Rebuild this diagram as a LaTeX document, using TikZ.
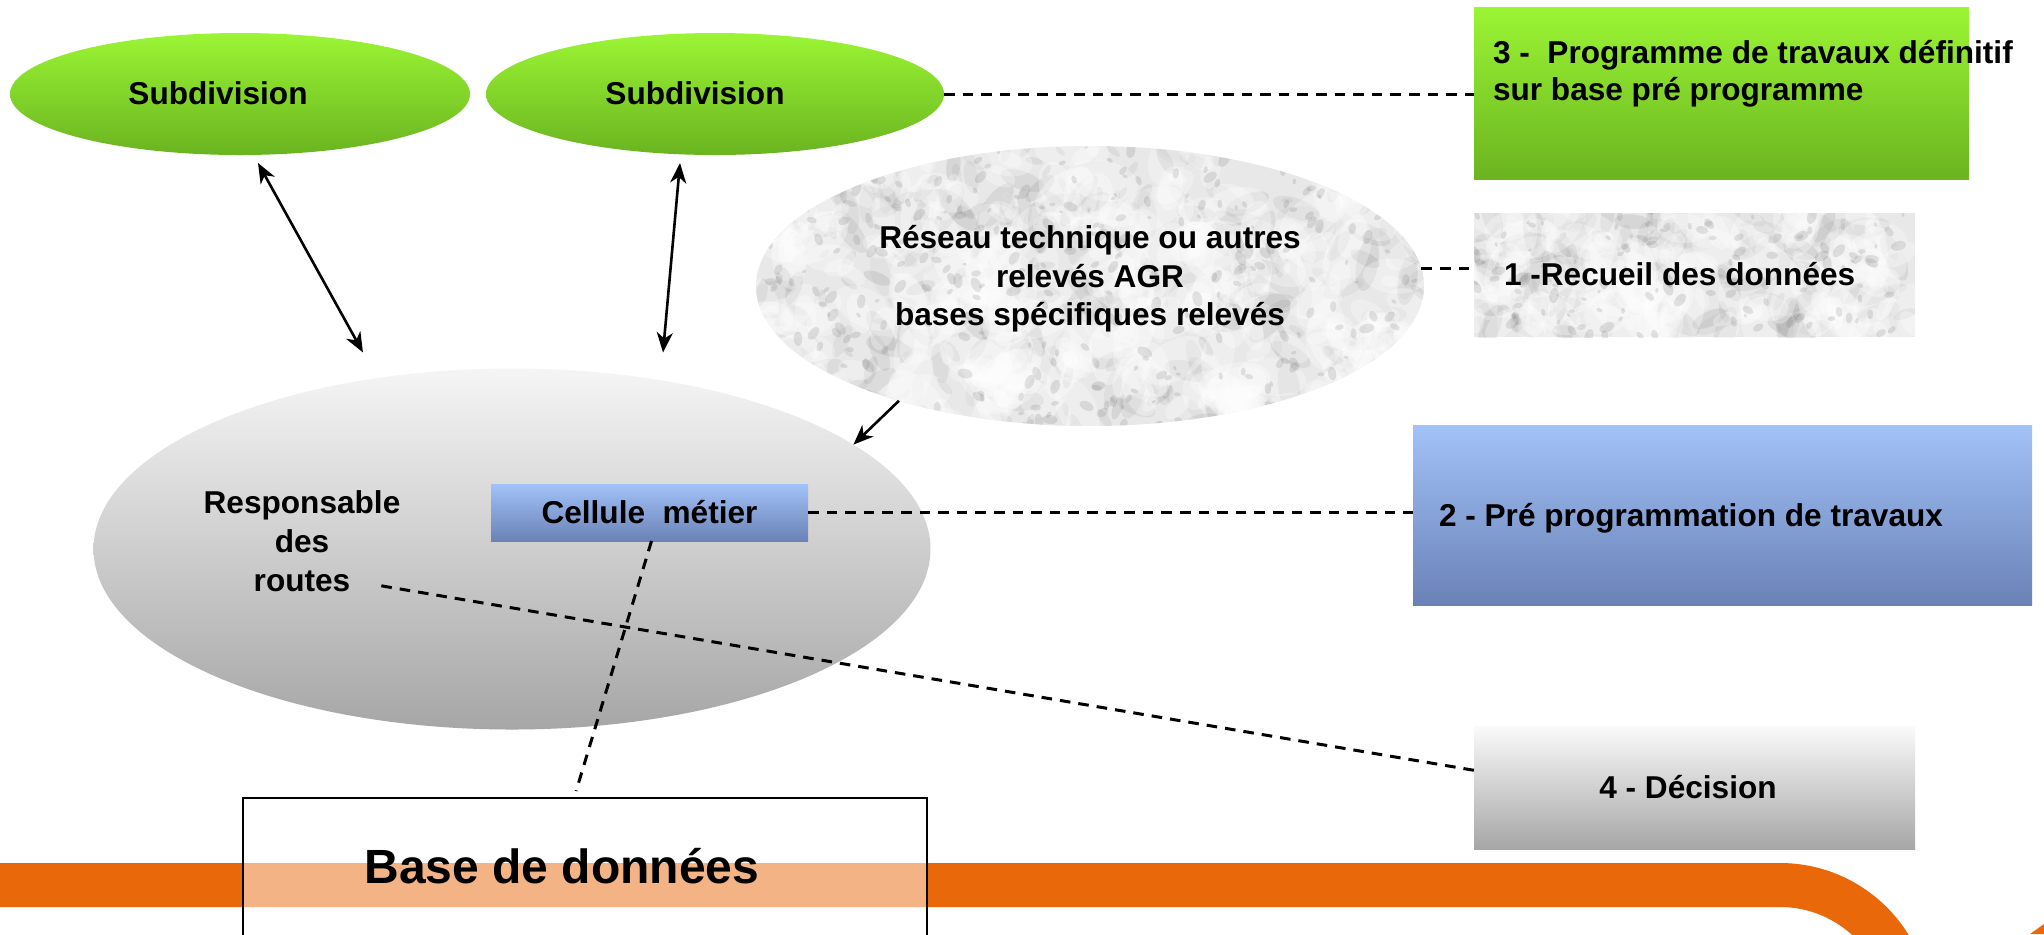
\documentclass[tikz,border=0pt]{standalone}
\usepackage{fontspec}
\setmainfont{Liberation Sans}
\usetikzlibrary{shapes.geometric,arrows.meta,calc}
\definecolor{grT}{RGB}{155,245,52}
\definecolor{grB}{RGB}{106,180,32}
\definecolor{blT}{RGB}{162,194,248}
\definecolor{blB}{RGB}{106,130,182}
\definecolor{gyT}{RGB}{250,250,250}
\definecolor{gyB}{RGB}{166,166,166}
\definecolor{orng}{RGB}{232,104,10}
\definecolor{marbleA}{RGB}{232,232,232}
\newcommand{\marbletex}[5]{%
  \fill[marbleA] (#1,#2) rectangle ++(#3,#4);
  \foreach \k in {1,...,#5}{%
    \pgfmathsetmacro{\mx}{#1+rnd*#3}%
    \pgfmathsetmacro{\my}{#2+rnd*#4}%
    \pgfmathsetmacro{\mr}{6+rnd*22}%
    \pgfmathsetmacro{\ma}{rnd*180}%
    \pgfmathsetmacro{\mo}{0.05+0.10*rnd}%
    \fill[gray!80!black, opacity=\mo, rotate around={\ma:(\mx,\my)}] (\mx,\my) ellipse [x radius=\mr, y radius=0.4*\mr];
  }%
  \foreach \k in {1,...,#5}{%
    \pgfmathsetmacro{\mx}{#1+rnd*#3}%
    \pgfmathsetmacro{\my}{#2+rnd*#4}%
    \pgfmathsetmacro{\mr}{10+rnd*28}%
    \pgfmathsetmacro{\ma}{rnd*180}%
    \fill[white, opacity=0.3, rotate around={\ma:(\mx,\my)}] (\mx,\my) ellipse [x radius=\mr, y radius=0.55*\mr];
  }%
  \foreach \k in {1,...,#5}{%
    \pgfmathsetmacro{\mx}{#1+rnd*#3}%
    \pgfmathsetmacro{\my}{#2+rnd*#4}%
    \pgfmathsetmacro{\mr}{2+rnd*6}%
    \pgfmathsetmacro{\ma}{rnd*180}%
    \fill[gray!90!black, opacity=0.18, rotate around={\ma:(\mx,\my)}] (\mx,\my) ellipse [x radius=\mr, y radius=0.6*\mr];
  }%
}
\begin{document}
\begin{tikzpicture}[x=0.5pt,y=-0.5pt,
  shp/.style={inner sep=0pt, outer sep=0pt},
  txt/.style={font=\fontsize{15.8}{19.2}\selectfont\bfseries, inner sep=0pt, outer sep=0pt},
  greenell/.style={shp, ellipse, top color=grT, bottom color=grB},
  dsh/.style={line width=1.5pt, dash pattern=on 5.3pt off 4pt},
  arr/.style={line width=1.3pt},
  >={Stealth[length=10pt,width=8pt,inset=3pt]}]
\clip (0,0) rectangle (2044,934);
\fill[white] (0,0) rectangle (2044,934);

% orange band
\fill[orng] (0,863) -- (1780,863) arc[start angle=-90, end angle=0, radius=151]
  -- (1887,1014) arc[start angle=0, end angle=-90, radius=107] -- (0,907) -- cycle;
\fill[orng] (2030,934) -- (2044,924) -- (2044,934) -- cycle;

% green ellipses
\node[greenell, minimum width=230pt, minimum height=61pt] (sub1) at (240,94) {};
\node[greenell, minimum width=229pt, minimum height=61pt] (sub2) at (715,94) {};
\node[txt, anchor=base] (sub1t) at (218,104) {Subdivision};
\node[txt, anchor=base] (sub2t) at (695,104) {Subdivision};

% box 3
\node[shp, rectangle, minimum width=247.5pt, minimum height=86pt, top color=grT, bottom color=grB] (box3) at (1721.5,93) {};
\node[txt, anchor=west, align=left, font=\fontsize{15.8}{18.3}\selectfont\bfseries] (box3t) at (1493,74)
  {3 -\ \ Programme de travaux définitif\\sur base pré programme};

% marble ellipse
\pgfmathsetseed{11}
\begin{scope}
  \clip (1090,286) ellipse [x radius=334, y radius=140];
  \marbletex{756}{146}{668}{280}{320}
\end{scope}
\node[shp, ellipse, minimum width=334pt, minimum height=140pt] (marble) at (1090,286) {};
\node[txt, align=center, font=\fontsize{15.8}{19.25}\selectfont\bfseries] (marblet) at (1090,279)
  {Réseau technique ou autres\\relevés AGR\\bases spécifiques relevés};

% box 1 (marble)
\begin{scope}
  \clip (1474,213) rectangle (1915,337);
  \marbletex{1474}{213}{441}{124}{130}
\end{scope}
\node[shp, rectangle, minimum width=220.5pt, minimum height=62pt] (box1) at (1694.5,275) {};
\node[txt, anchor=base west] (box1t) at (1504,285) {1 -Recueil des données};

% box 2
\node[shp, rectangle, minimum width=309.5pt, minimum height=90pt, top color=blT, bottom color=blB] (box2) at (1722.5,515) {};
\node[txt, anchor=base west] (box2t) at (1439,526) {2 - Pré programmation de travaux};

% box 4
\node[shp, rectangle, minimum width=220.5pt, minimum height=61.5pt, top color=gyT, bottom color=gyB] (box4) at (1694.5,787.5) {};
\node[txt, anchor=base] (box4t) at (1688,798) {4 - Décision};

% big grey ellipse
\node[shp, ellipse, minimum width=418.5pt, minimum height=180.5pt, top color=gyT!98!black, bottom color=gyB] (big) at (512,549) {};
\node[txt, align=center, font=\fontsize{15.8}{19.6}\selectfont\bfseries] (respt) at (302,541) {Responsable\\des\\routes};

% cellule metier
\node[shp, rectangle, minimum width=158.5pt, minimum height=28.5pt, top color=blT, bottom color=blB, txt] (cell) at (649.5,512.5) {Cellule\ \ métier};

% base de donnees
\node[shp, rectangle, draw=black, line width=1.4pt, fill=white, fill opacity=0.5, minimum width=342pt, minimum height=91pt] (base) at (585,889) {};
\node[txt, anchor=base, font=\fontsize{24}{28}\selectfont\bfseries] (baset) at (562,883) {Base de données};

% dashed connectors
\draw[dsh] (sub2.east) -- (sub2.east -| box3.west);
\draw[dsh] (marble.3) -- (marble.3 -| box1.west);
\draw[dsh] (cell.east) -- (cell.east -| box2.west);
\draw[dsh] ($(respt.south east)+(-19,-6)$) -- ($(box4.north west)!0.36!(box4.south west)$);
\draw[dsh] ($(cell.south)+(2,0)$) -- ($(base.north west)!0.487!(base.north east)+(0,-7)$);

% arrows
\draw[arr, <->] ($(sub1.south)+(18,8)$) -- ($(big.north)+(-149,-16)$);
\draw[arr, <->] ($(sub2.south)+(-35,8)$) -- ($(big.north)+(151,-16)$);
\draw[arr, ->] (marble.211) -- (big.17);
\end{tikzpicture}
\end{document}
